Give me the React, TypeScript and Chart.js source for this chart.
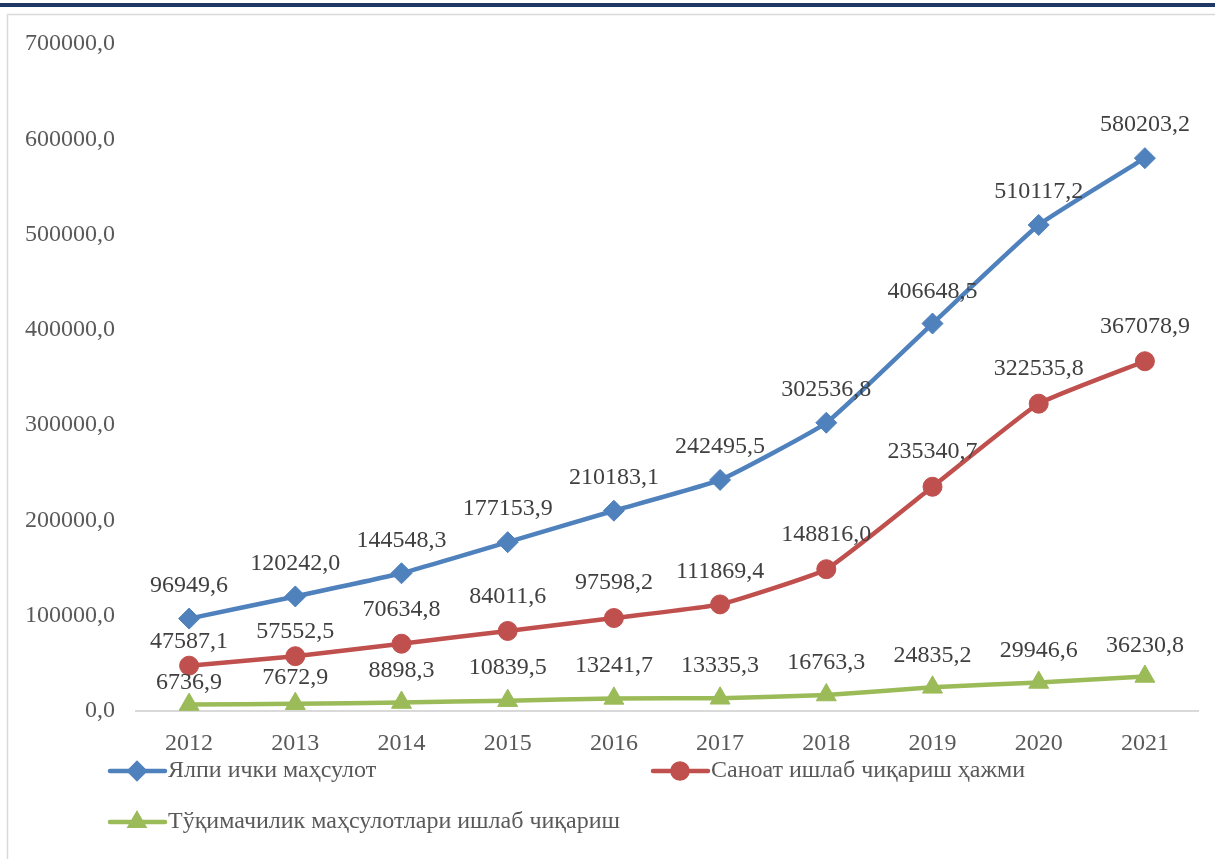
import React, { useEffect, useRef } from "react";
import { Chart, registerables } from "chart.js";
import { drawPoint } from "chart.js/helpers";

Chart.register(...registerables);

const years = ["2012", "2013", "2014", "2015", "2016", "2017", "2018", "2019", "2020", "2021"];
const gdp = [96949.6, 120242.0, 144548.3, 177153.9, 210183.1, 242495.5, 302536.8, 406648.5, 510117.2, 580203.2];
const industry = [47587.1, 57552.5, 70634.8, 84011.6, 97598.2, 111869.4, 148816.0, 235340.7, 322535.8, 367078.9];
const textile = [6736.9, 7672.9, 8898.3, 10839.5, 13241.7, 13335.3, 16763.3, 24835.2, 29946.6, 36230.8];
const seriesNames = [
  "Ялпи ички маҳсулот",
  "Саноат ишлаб чиқариш ҳажми",
  "Тўқимачилик маҳсулотлари ишлаб чиқариш",
];
const yMin = 0;
const yMax = 700000;
const yStep = 100000;

// styling (label offsets above points, in px)
const labelOffsets = [
  [33, 33, 33, 33, 33, 33, 33, 32, 33, 33],
  [24, 24, 34, 34, 35, 33, 34, 35, 35, 35],
  [22, 26, 32, 33, 33, 33, 32, 32, 32, 31],
];
const colors = ["#4F81BD", "#C0504D", "#9BBB59"];
const pointStyles = ["rectRot", "circle", "triangle"];
const pointRadii = [10.5, 9.5, 11.5];
const legendPos = [
  { x: 110, y: 771 },
  { x: 653, y: 771 },
  { x: 110, y: 822 },
];

const fmt = (v: number) => v.toFixed(1).replace(".", ",");
const FONT = "'Liberation Serif', 'Times New Roman', serif";

const framePlugin = {
  id: "frame",
  beforeDraw(chart: any) {
    const ctx = chart.ctx;
    ctx.save();
    ctx.fillStyle = "#ffffff";
    ctx.fillRect(0, 0, chart.width, chart.height);
    ctx.fillStyle = "#1F3864";
    ctx.fillRect(0, 3, chart.width, 4);
    ctx.strokeStyle = "#D9D9D9";
    ctx.lineWidth = 1.5;
    ctx.strokeRect(7.5, 14.5, chart.width + 20, chart.height + 20);
    ctx.restore();
  },
};

const labelPlugin = {
  id: "pointLabels",
  afterDatasetsDraw(chart: any) {
    const ctx = chart.ctx;
    ctx.save();
    ctx.font = `24px ${FONT}`;
    ctx.fillStyle = "#404040";
    ctx.textAlign = "center";
    ctx.textBaseline = "middle";
    chart.data.datasets.forEach((ds: any, i: number) => {
      const meta = chart.getDatasetMeta(i);
      meta.data.forEach((pt: any, j: number) => {
        ctx.fillText(fmt(ds.data[j]), pt.x, pt.y - labelOffsets[i][j]);
      });
    });
    ctx.restore();
  },
};

const legendPlugin = {
  id: "customLegend",
  afterDraw(chart: any) {
    const ctx = chart.ctx;
    ctx.save();
    chart.data.datasets.forEach((ds: any, i: number) => {
      const p = legendPos[i];
      ctx.strokeStyle = colors[i];
      ctx.lineWidth = 4.5;
      ctx.lineCap = "round";
      ctx.beginPath();
      ctx.moveTo(p.x, p.y);
      ctx.lineTo(p.x + 55, p.y);
      ctx.stroke();
      ctx.fillStyle = colors[i];
      drawPoint(
        ctx,
        { pointStyle: pointStyles[i], radius: 7.5, rotation: 0, borderWidth: 1 } as any,
        p.x + 27,
        p.y
      );
      ctx.font = `24px ${FONT}`;
      ctx.fillStyle = "#595959";
      ctx.textAlign = "left";
      ctx.textBaseline = "middle";
      ctx.fillText(ds.label, p.x + 58, p.y);
    });
    ctx.restore();
  },
};

export default function App() {
  const ref = useRef<HTMLCanvasElement | null>(null);
  useEffect(() => {
    if (!ref.current) return;
    const series = [gdp, industry, textile];
    const chart = new Chart(ref.current, {
      type: "line",
      data: {
        labels: years,
        datasets: series.map((d, i) => ({
          label: seriesNames[i],
          data: d,
          borderColor: colors[i],
          backgroundColor: colors[i],
          pointBackgroundColor: colors[i],
          pointBorderColor: colors[i],
          pointStyle: pointStyles[i] as any,
          pointRadius: pointRadii[i],
          pointBorderWidth: 1,
          borderWidth: 4.5,
          tension: 0.12,
          fill: false,
        })),
      },
      options: {
        responsive: false,
        animation: false,
        devicePixelRatio: 1,
        layout: { padding: { left: 0, right: 17, top: 44, bottom: 88 } },
        plugins: {
          legend: { display: false },
          tooltip: { enabled: false },
        },
        scales: {
          x: {
            offset: true,
            clip: false,
            grid: { display: false },
            border: { display: true, color: "#D9D9D9", width: 2 },
            ticks: {
              color: "#595959",
              font: { family: FONT, size: 24 },
              padding: 10,
              maxRotation: 0,
            },
            afterFit: (s: any) => {
              s.height = 60;
            },
          },
          y: {
            min: yMin,
            max: yMax,
            clip: false,
            grid: { display: false, drawTicks: false },
            border: { display: false },
            ticks: {
              stepSize: yStep,
              color: "#595959",
              font: { family: FONT, size: 24 },
              padding: 21,
              callback: (v: any) => fmt(Number(v)),
            },
            afterFit: (s: any) => {
              s.width = 136;
            },
          },
        },
      } as any,
      plugins: [framePlugin, labelPlugin, legendPlugin],
    });
    return () => chart.destroy();
  }, []);
  return (
    <div style={{ position: "absolute", left: 0, top: 0, width: 1215, height: 859 }}>
      <canvas ref={ref} width={1215} height={859} style={{ width: 1215, height: 859, display: "block" }} />
    </div>
  );
}
